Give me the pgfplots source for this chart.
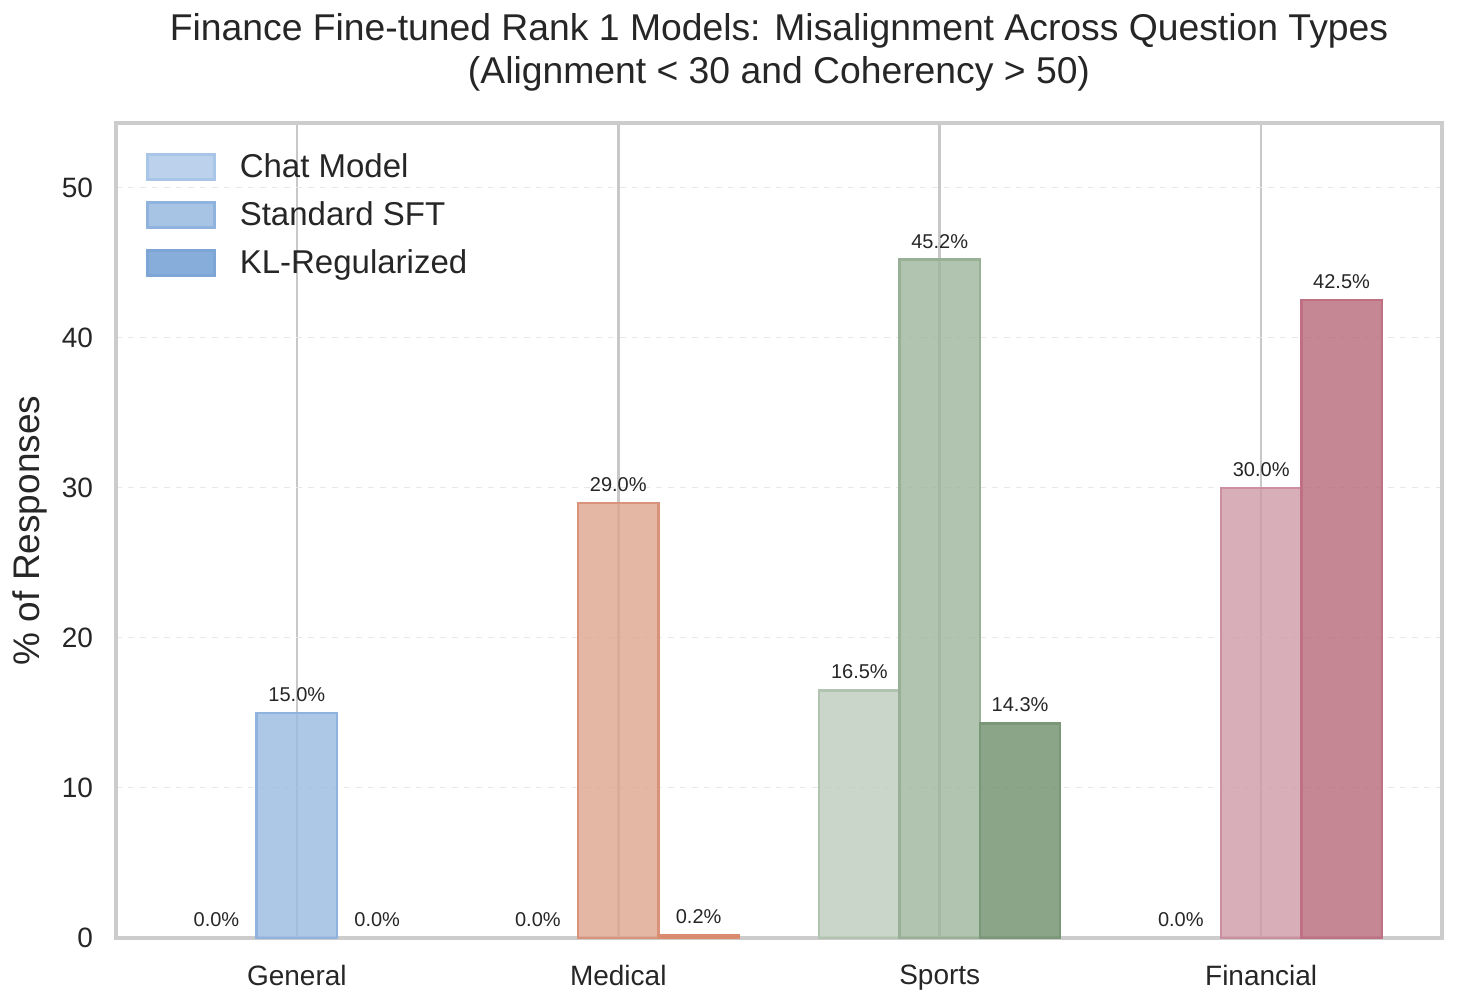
\documentclass[border=0pt]{standalone}
\usepackage{pgfplots}
\pgfplotsset{compat=1.18}
\usepackage{fontspec}
\setmainfont{Liberation Sans}
\definecolor{txt}{RGB}{38,38,38}
\definecolor{framec}{RGB}{204,204,204}
\definecolor{vgrid}{RGB}{200,200,200}
\definecolor{hgrid}{RGB}{232,232,232}
% legend (blue) colours
\definecolor{lgA}{RGB}{188,209,236}\definecolor{lgAe}{RGB}{169,198,232}
\definecolor{lgB}{RGB}{153,186,224}\definecolor{lgBe}{RGB}{143,179,221}
\definecolor{lgC}{RGB}{105,154,210}\definecolor{lgCe}{RGB}{125,165,214}
% general
\definecolor{gB}{RGB}{153,186,224}\definecolor{gBe}{RGB}{143,179,221}
% medical
\definecolor{mB}{RGB}{221,165,142}\definecolor{mBe}{RGB}{217,147,122}
\definecolor{mC}{RGB}{214,120,88}\definecolor{mCe}{RGB}{220,140,110}
% sports
\definecolor{sA}{RGB}{190,204,190}\definecolor{sAe}{RGB}{176,196,176}
\definecolor{sB}{RGB}{156,181,156}\definecolor{sBe}{RGB}{151,176,150}
\definecolor{sC}{RGB}{109,143,106}\definecolor{sCe}{RGB}{122,152,120}
% financial
\definecolor{fB}{RGB}{206,154,166}\definecolor{fBe}{RGB}{204,143,160}
\definecolor{fC}{RGB}{184,105,123}\definecolor{fCe}{RGB}{192,112,131}
\pgfplotsset{
  mybar/.style={ybar, bar width=0.25, bar shift=0pt, forget plot,
    fill opacity=0.8, line width=1.2pt,
    nodes near coords={\pgfmathprintnumber[fixed,fixed zerofill,precision=1]{\pgfplotspointmeta}\%},
    every node near coord/.append style={font=\fontsize{10}{12}\selectfont, text=txt,
      text opacity=1, fill opacity=1, anchor=south, inner sep=2pt, yshift=3pt}},
  zbar/.style={mybar, draw=none, fill=none},
}
\begin{document}
\begin{tikzpicture}
\begin{axis}[
  at={(0,0)}, anchor=south west,
  scale only axis, width=663pt, height=407.5pt,
  xmin=-0.5625, xmax=3.5625, ymin=0, ymax=54.3,
  xtick={0,1,2,3}, xticklabels={General,Medical,Sports,Financial},
  ytick={0,10,20,30,40,50},
  major tick length=0pt,
  xmajorgrids, ymajorgrids,
  x grid style={color=vgrid, line width=1.3pt},
  y grid style={color=hgrid, dashed, line width=0.5pt},
  axis line style={color=framec, line width=1.6pt},
  tick label style={font=\fontsize{14}{16}\selectfont, text=txt},
  /pgf/number format/assume math mode=true,
  xticklabel style={yshift=-10pt},
  yticklabel style={xshift=-8pt},
  ylabel={\% of Responses},
  ylabel style={font=\fontsize{18.5}{22}\selectfont, text=txt, at={(axis description cs:-0.0649,0.5)}, anchor=center},
  title={Finance Fine-tuned Rank 1 Models: Misalignment Across Question Types\\(Alignment < 30 and Coherency > 50)},
  title style={font=\fontsize{18.65}{21.5}\selectfont, text=txt, align=center, at={(axis description cs:0.5,1)}, anchor=south, inner sep=0pt, yshift=9.5pt},
  legend cell align=left,
  legend image code/.code={\draw[#1] (0pt,-5.45pt) rectangle (33.5pt,7.05pt);},
  legend style={at={(axis description cs:0,1)}, anchor=north west, xshift=15pt, yshift=-14.4pt,
    draw=none, fill=none, inner sep=0pt, row sep=7.5pt,
    font=\fontsize{16.5}{19}\selectfont, text=txt,
    nodes={inner sep=0pt, text height=12.5pt, text depth=4pt},
    /tikz/every odd column/.append style={column sep=12pt}},
]
\addlegendimage{fill=lgA, draw=lgAe, line width=1.2pt}
\addlegendentry{Chat Model}
\addlegendimage{fill=lgB!85!white, draw=lgBe, line width=1.2pt}
\addlegendentry{Standard SFT}
\addlegendimage{fill=lgC!80!white, draw=lgCe, line width=1.2pt}
\addlegendentry{KL-Regularized}
% General
\addplot[zbar] coordinates {(-0.25,0.0)};
\addplot[mybar, fill=gB, draw=gBe] coordinates {(0,15.0)};
\addplot[zbar] coordinates {(0.25,0.0)};
% Medical
\addplot[zbar] coordinates {(0.75,0.0)};
\addplot[mybar, fill=mB, draw=mBe] coordinates {(1,29.0)};
\addplot[mybar, fill=mC, draw=mCe] coordinates {(1.25,0.2)};
% Sports
\addplot[mybar, fill=sA, draw=sAe] coordinates {(1.75,16.5)};
\addplot[mybar, fill=sB, draw=sBe] coordinates {(2,45.2)};
\addplot[mybar, fill=sC, draw=sCe] coordinates {(2.25,14.3)};
% Financial
\addplot[zbar] coordinates {(2.75,0.0)};
\addplot[mybar, fill=fB, draw=fBe] coordinates {(3,30.0)};
\addplot[mybar, fill=fC, draw=fCe] coordinates {(3.25,42.5)};
\end{axis}
\pgfresetboundingbox
\path (-58pt,-34.5pt) rectangle (670.5pt,469pt);
\end{tikzpicture}
\end{document}
